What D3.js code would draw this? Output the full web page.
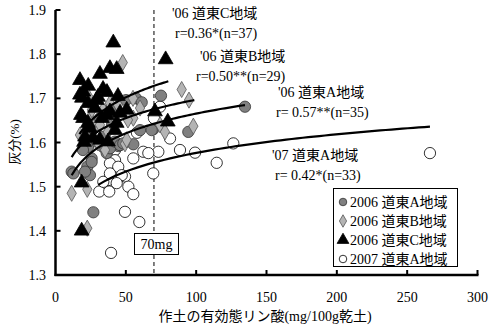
<!DOCTYPE html>
<html><head><meta charset="utf-8">
<script src="https://cdn.jsdelivr.net/npm/d3@7"></script>
<style>
body{margin:0;background:#fff;}
text{font-family:"Liberation Serif","Noto Sans CJK JP",serif;}
</style></head>
<body><svg id="c" width="492" height="329"></svg>
<script>
// 2006 道東A地域 (gray circles) [P, ash]
const seriesA06 = [[57.2,1.700],[61.3,1.691],[75,1.706],[69.5,1.630],[94.4,1.624],[134.7,1.681],[44.6,1.592],[55.3,1.596],[38.7,1.677],[23.3,1.636],[31.6,1.655],[22.2,1.613],[33.8,1.590],[36.4,1.576],[23.1,1.590],[25.7,1.564],[11.5,1.534],[22.6,1.545],[25.7,1.556],[24.5,1.526],[26.9,1.442],[26.9,1.632],[34,1.613],[29.3,1.602],[38.7,1.587],[42.3,1.602],[45.9,1.594],[60.1,1.628],[68.4,1.628],[48.2,1.598],[21,1.534],[12.7,1.530],[19.5,1.583],[50.1,1.696],[40.2,1.640]];
// 2006 道東B地域 (gray diamonds)
const seriesB06 = [[47.8,1.781],[89.7,1.720],[94.9,1.696],[98,1.637],[23.3,1.704],[55.1,1.700],[74.3,1.640],[77.8,1.624],[49.4,1.597],[24.5,1.655],[28.1,1.633],[21,1.621],[11.5,1.485],[22.6,1.494],[22.6,1.406],[50.6,1.606],[55.3,1.655],[33.8,1.674],[38.7,1.689],[31.6,1.640],[37.3,1.624],[42.3,1.655],[17.4,1.617],[30.2,1.599],[44.4,1.685],[25.9,1.674],[60.1,1.678],[35.2,1.583],[51.5,1.651]];
// 2006 道東C地域 (black triangles)
const seriesC06 = [[41.1,1.826],[31.6,1.755],[38.7,1.768],[43.5,1.766],[17.4,1.741],[23.3,1.728],[17.4,1.708],[18.8,1.701],[23.1,1.689],[29.3,1.696],[33.8,1.721],[36.6,1.714],[44.4,1.705],[78.3,1.788],[79.8,1.647],[18.1,1.662],[19.6,1.655],[38.7,1.670],[45.9,1.667],[50.6,1.674],[43.5,1.644],[21,1.613],[20.3,1.601],[31.6,1.606],[37.3,1.602],[26.7,1.610],[70.7,1.670],[18.6,1.509],[18.6,1.400],[23.1,1.644],[36.4,1.662],[19.8,1.715],[30.2,1.703],[28.1,1.678],[33,1.655],[24.5,1.633],[42.3,1.628]];
// 2007 道東A地域 (white circles)
const seriesA07 = [[266.2,1.576],[114.6,1.554],[126.4,1.598],[74.3,1.681],[70,1.655],[81.4,1.609],[88.5,1.583],[73.1,1.579],[62.4,1.579],[66,1.576],[55.3,1.564],[69.5,1.530],[49.4,1.523],[31.6,1.598],[35.2,1.587],[42.3,1.583],[42.3,1.560],[38.7,1.553],[44.6,1.545],[47.1,1.526],[37.5,1.515],[31.1,1.489],[38.2,1.489],[34,1.511],[38.7,1.530],[43.5,1.508],[51.8,1.500],[55.3,1.483],[49.4,1.443],[59.6,1.420],[39.5,1.350],[99.2,1.577],[57.9,1.622]];

// log regression curves y = a*ln(x)+b
const curveSlope = [0.0646, 0.060, 0.077, 0.0608];
const curveIntercept = [1.368, 1.4205, 1.401, 1.2964];
const curveXmin = [11.5, 11.5, 17, 30.4];
const curveXmax = [134.7, 98.7, 80.2, 266.2];

const xTicks = [0,50,100,150,200,250,300];
const yTicks = [1.3,1.4,1.5,1.6,1.7,1.8,1.9];
const legendLabels = ["2006 道東A地域","2006 道東B地域","2006 道東C地域","2007 道東A地域"];
const annoLines = [["'06 道東C地域","r=0.36*(n=37)"],["'06 道東B地域","r=0.50**(n=29)"],["'06 道東A地域","r= 0.57**(n=35)"],["'07 道東A地域","r= 0.42*(n=33)"]];
const refLineX = 70;

const svg = d3.select("#c");
const x = d3.scaleLinear().domain([0,300]).range([55.5,477.5]);
const y = d3.scaleLinear().domain([1.3,1.9]).range([275,10]);

// dashed reference line
svg.append("line").attr("x1",x(refLineX)).attr("x2",x(refLineX)).attr("y1",y(1.9)).attr("y2",y(1.3))
  .attr("stroke","#000").attr("stroke-width",1).attr("stroke-dasharray","4,3");

// markers
const sym = {
  circ: d3.symbol().type(d3.symbolCircle).size(100),
  diam: d3.symbol().type(d3.symbolDiamond).size(75),
  tri: d3.symbol().type(d3.symbolTriangle).size(95)
};
function drawSeries(data, path, fill, stroke){
  svg.append("g").selectAll("path").data(data).join("path")
    .attr("d", path).attr("transform", d=>`translate(${x(d[0])},${y(d[1])})`)
    .attr("fill", fill).attr("stroke", stroke).attr("stroke-width",0.8);
}
drawSeries(seriesA07, sym.circ, "#fff", "#000");
drawSeries(seriesA06, sym.circ, "#808080", "#333");
drawSeries(seriesB06, sym.diam, "#b4b4b4", "#555");
drawSeries(seriesC06, sym.tri, "#000", "#000");

// regression curves
const line = d3.line().x(d=>x(d[0])).y(d=>y(d[1]));
curveSlope.forEach((a,i)=>{
  const b = curveIntercept[i];
  const pts = d3.range(0,61).map(k=>{
    const xv = curveXmin[i] + (curveXmax[i]-curveXmin[i])*k/60;
    return [xv, a*Math.log(xv)+b];
  });
  svg.append("path").attr("d", line(pts)).attr("fill","none").attr("stroke","#000").attr("stroke-width",2.2);
});

// axes
svg.append("line").attr("x1",x(0)).attr("x2",x(0)).attr("y1",y(1.9)).attr("y2",y(1.3)+1).attr("stroke","#000").attr("stroke-width",2.5);
svg.append("line").attr("x1",x(0)-1).attr("x2",x(300)+1).attr("y1",y(1.3)).attr("y2",y(1.3)).attr("stroke","#000").attr("stroke-width",2.5);
yTicks.forEach(t=>{
  svg.append("line").attr("x1",x(0)).attr("x2",x(0)+5).attr("y1",y(t)).attr("y2",y(t)).attr("stroke","#000").attr("stroke-width",2);
  svg.append("text").attr("x",46).attr("y",y(t)+5).attr("text-anchor","end").attr("font-size",14).text(d3.format(".1f")(t));
});
xTicks.forEach(t=>{
  if(t>0) svg.append("line").attr("x1",x(t)).attr("x2",x(t)).attr("y1",y(1.3)).attr("y2",y(1.3)-5).attr("stroke","#000").attr("stroke-width",2);
  svg.append("text").attr("x",x(t)).attr("y",302).attr("text-anchor","middle").attr("font-size",14).text(t);
});
svg.append("text").attr("transform","translate(19,142) rotate(-90)").attr("text-anchor","middle").attr("font-size",13).text("灰分(%)");
svg.append("text").attr("x",265).attr("y",321).attr("text-anchor","middle").attr("font-size",14).text("作土の有効態リン酸(mg/100g乾土)");

// annotations
const annoPos = [[172,18,175,38],[200,61,196,81],[278,97,276,117],[272,160,275,180]];
annoLines.forEach((l,i)=>{
  const p = annoPos[i];
  svg.append("text").attr("x",p[0]).attr("y",p[1]).attr("font-size",14).text(l[0]);
  svg.append("text").attr("x",p[2]).attr("y",p[3]).attr("font-size",14).text(l[1]);
});

// 70mg box
svg.append("rect").attr("x",134.5).attr("y",233.5).attr("width",44).attr("height",21).attr("fill","#fff").attr("stroke","#000");
svg.append("text").attr("x",156.5).attr("y",249).attr("text-anchor","middle").attr("font-size",14).text("70mg");

// legend
svg.append("rect").attr("x",333.5).attr("y",188.5).attr("width",124).attr("height",78).attr("fill","#fff").attr("stroke","#000");
const legSyms = [[sym.circ,"#808080","#333"],[sym.diam,"#b4b4b4","#555"],[sym.tri,"#000","#000"],[sym.circ,"#fff","#000"]];
legendLabels.forEach((lab,i)=>{
  const yy = 202 + i*19;
  const s = legSyms[i];
  svg.append("path").attr("d", d3.symbol().type(i===1?d3.symbolDiamond:(i===2?d3.symbolTriangle:d3.symbolCircle)).size(i===2?60:45)())
    .attr("transform",`translate(343,${yy})`).attr("fill",s[1]).attr("stroke",s[2]).attr("stroke-width",0.8);
  svg.append("text").attr("x",350).attr("y",yy+5).attr("font-size",14).text(lab);
});
</script></body></html>
